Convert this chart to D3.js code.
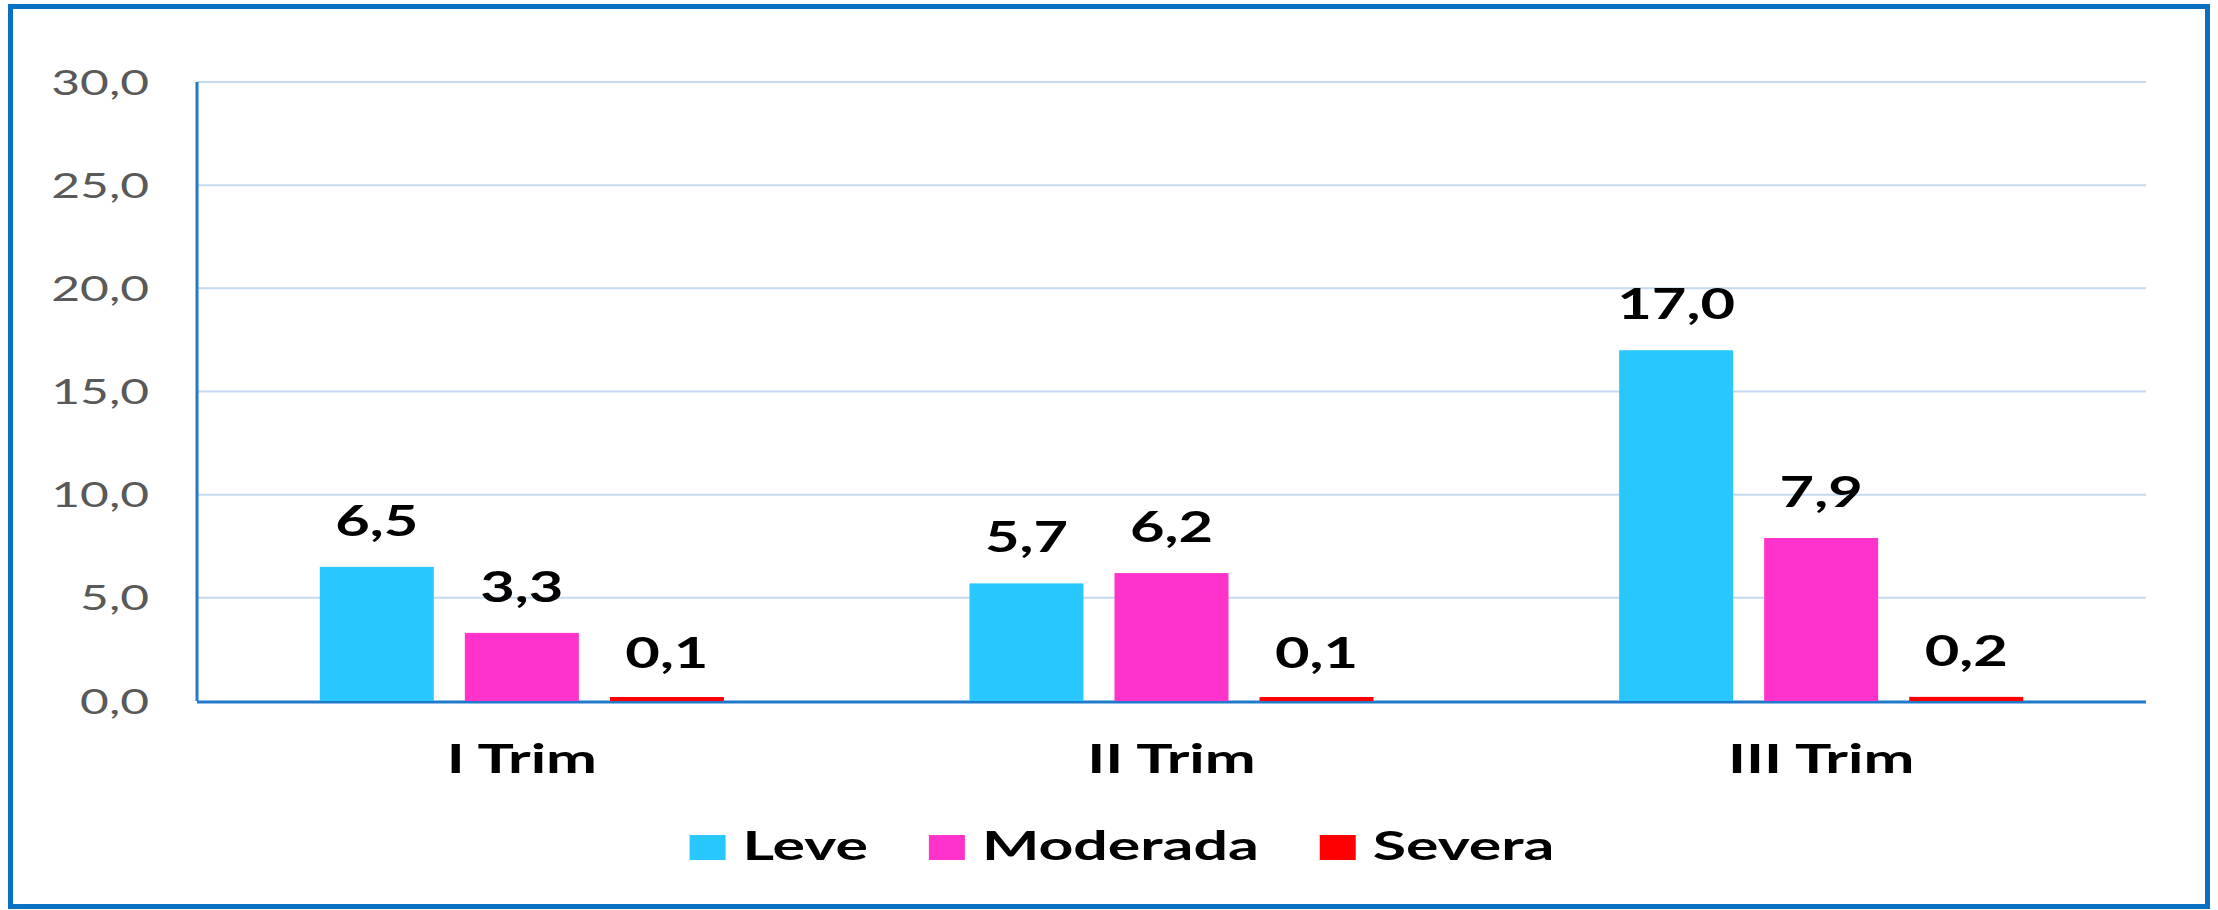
<!DOCTYPE html>
<html>
<head>
<meta charset="utf-8">
<script src="https://cdn.jsdelivr.net/npm/d3@7"></script>
<style>
    html, body { margin: 0; padding: 0; background: #ffffff; }
    svg { display: block; }
</style>
</head>
<body>
<script>
const categories = ["I Trim", "II Trim", "III Trim"]
const series = ["Leve", "Moderada", "Severa"]
const leveValues = [6.5, 5.7, 17.0]
const moderadaValues = [3.3, 6.2, 7.9]
const severaValues = [0.1, 0.1, 0.2]
const yTicks = [0, 5, 10, 15, 20, 25, 30]

const colors = { "Leve": "#28C7FE", "Moderada": "#FF33CC", "Severa": "#FF0000" }

const rows = categories.map((cat, i) => {
    return { cat: cat, values: [leveValues[i], moderadaValues[i], severaValues[i]] }
})

const svgWidth = 2218
const svgHeight = 910
// the original picture is stretched sideways, text too
const stretch = 1.42
const labelStretch = 1.52
const fontFamily = "Lato, 'Open Sans', sans-serif"

const plotLeft = 197, plotRight = 2146, plotTop = 82, plotBottom = 701

const svg = d3.select("body").append("svg")
    .attr("width", svgWidth)
    .attr("height", svgHeight)

/* outer frame */
svg.append("rect")
    .attr("x", 10.5).attr("y", 6.5)
    .attr("width", svgWidth - 21).attr("height", svgHeight - 10)
    .attr("fill", "none")
    .attr("stroke", "#0A70C2")
    .attr("stroke-width", 5)

const yScale = d3.scaleLinear().domain([0, 30]).range([plotBottom, plotTop])

const x0 = d3.scaleBand()
    .domain(categories)
    .range([plotLeft, plotRight])
    .paddingInner(0.378)
    .paddingOuter(0.189)

const x1 = d3.scaleBand()
    .domain(series)
    .range([0, x0.bandwidth()])
    .paddingInner(0.214)

/* gridlines */
svg.append("g")
    .selectAll("line")
    .data(yTicks.filter(d => d > 0))
    .enter()
    .append("line")
    .attr("x1", plotLeft).attr("x2", plotRight)
    .attr("y1", d => yScale(d)).attr("y2", d => yScale(d))
    .attr("stroke", "#C3DAF0")
    .attr("stroke-width", 2)

/* y tick labels */
svg.append("g")
    .selectAll("text")
    .data(yTicks)
    .enter()
    .append("text")
    .attr("transform", d => `translate(149, ${yScale(d)}) scale(${stretch}, 1)`)
    .attr("dy", "0.36em")
    .attr("text-anchor", "end")
    .attr("font-family", fontFamily)
    .attr("font-size", 35)
    .attr("fill", "#595959")
    .text(d => d3.format(".1f")(d).replace(".", ","))

/* axis lines */
svg.append("line")
    .attr("x1", plotLeft).attr("x2", plotLeft)
    .attr("y1", plotTop).attr("y2", plotBottom)
    .attr("stroke", "#1F7ACB")
    .attr("stroke-width", 3)

svg.append("line")
    .attr("x1", plotLeft).attr("x2", plotRight)
    .attr("y1", plotBottom + 1).attr("y2", plotBottom + 1)
    .attr("stroke", "#1F7ACB")
    .attr("stroke-width", 3)

/* bars */
const groups = svg.append("g")
    .selectAll("g")
    .data(rows)
    .enter()
    .append("g")
    .attr("transform", d => `translate(${x0(d.cat)}, 0)`)

groups.selectAll("rect")
    .data(d => d.values.map((v, i) => ({ key: series[i], value: v })))
    .enter()
    .append("rect")
    .attr("x", d => x1(d.key))
    .attr("y", d => Math.min(yScale(d.value), yScale(0) - 4))
    .attr("width", x1.bandwidth())
    .attr("height", d => Math.max(yScale(0) - yScale(d.value), 4))
    .attr("fill", d => colors[d.key])

groups.selectAll("text")
    .data(d => d.values.map((v, i) => ({ key: series[i], value: v })))
    .enter()
    .append("text")
    .attr("transform", d => `translate(${x1(d.key) + x1.bandwidth() / 2}, ${yScale(d.value) - 31}) scale(${stretch}, 1)`)
    .attr("text-anchor", "middle")
    .attr("font-family", fontFamily)
    .attr("font-weight", "bold")
    .attr("font-size", 42)
    .attr("fill", "#000000")
    .text(d => d3.format(".1f")(d.value).replace(".", ","))

/* category labels */
svg.append("g")
    .selectAll("text")
    .data(categories)
    .enter()
    .append("text")
    .attr("transform", d => `translate(${x0(d) + x0.bandwidth() / 2}, 773) scale(${labelStretch}, 1)`)
    .attr("text-anchor", "middle")
    .attr("font-family", fontFamily)
    .attr("font-weight", "bold")
    .attr("font-size", 40)
    .attr("fill", "#000000")
    .text(d => d)

/* legend */
const legend = svg.append("g")
const swatchW = 36, swatchH = 25, textGap = 17, itemGap = 61
let cursor = 0
series.forEach(name => {
    const item = legend.append("g").attr("transform", `translate(${cursor}, 0)`)
    item.append("rect")
        .attr("x", 0).attr("y", 835)
        .attr("width", swatchW).attr("height", swatchH)
        .attr("fill", colors[name])
    const label = item.append("text")
        .attr("transform", `translate(${swatchW + textGap}, 860) scale(${labelStretch}, 1)`)
        .attr("font-family", fontFamily)
        .attr("font-weight", "bold")
        .attr("font-size", 40)
        .attr("fill", "#000000")
        .text(name)
    cursor += swatchW + textGap + label.node().getComputedTextLength() * labelStretch + itemGap
})
const legendWidth = cursor - itemGap
legend.attr("transform", `translate(${1122 - legendWidth / 2}, 0)`)
</script>
</body>
</html>
